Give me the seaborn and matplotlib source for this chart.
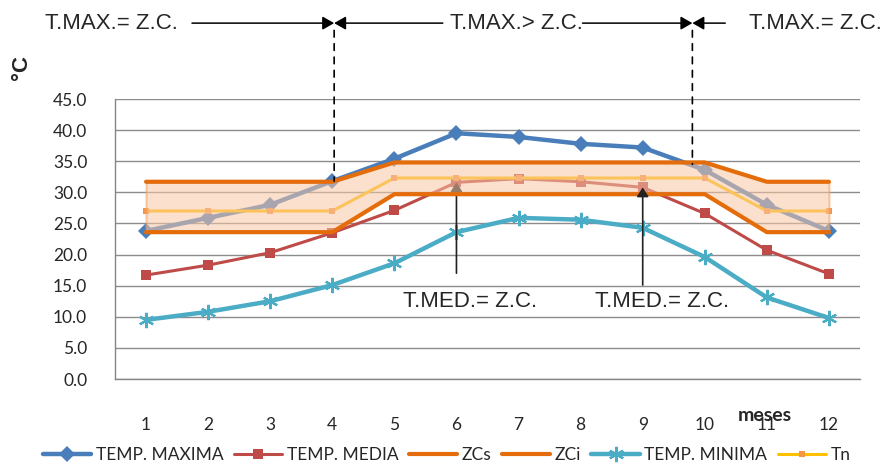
import matplotlib
matplotlib.use("Agg")
import matplotlib.pyplot as plt
import seaborn as sns
import pandas as pd
from matplotlib.lines import Line2D

# ---- data ----
months = [1, 2, 3, 4, 5, 6, 7, 8, 9, 10, 11, 12]
tick_labels = ["1", "2", "3", "4", "5", "6", "7", "8", "9", "10", "11", "12"]
temp_maxima = [23.8, 25.9, 28.0, 31.8, 35.4, 39.5, 38.9, 37.8, 37.2, 33.6, 28.0, 23.8]
temp_media = [16.7, 18.3, 20.3, 23.5, 27.1, 31.6, 32.2, 31.7, 30.8, 26.6, 20.7, 16.9]
temp_minima = [9.5, 10.8, 12.5, 15.1, 18.6, 23.6, 25.9, 25.6, 24.3, 19.6, 13.1, 9.8]
zcs = [31.7, 31.7, 31.7, 31.7, 34.8, 34.8, 34.8, 34.8, 34.8, 34.8, 31.7, 31.7]
zci = [23.6, 23.6, 23.6, 23.6, 29.7, 29.7, 29.7, 29.7, 29.7, 29.7, 23.6, 23.6]
tn = [27.0, 27.0, 27.0, 27.0, 32.3, 32.3, 32.3, 32.3, 32.3, 32.3, 27.0, 27.0]
yticks = [0, 5, 10, 15, 20, 25, 30, 35, 40, 45]

# annotation anchors (month positions)
tmax_cross = [(4.03, 31.8), (9.8, 34.5)]
tmed_arrows = [(6, 17.0, 31.6), (9, 15.1, 30.8)]

df = pd.DataFrame({"mes": months, "TEMP. MAXIMA": temp_maxima, "TEMP. MEDIA": temp_media,
                   "ZCs": zcs, "ZCi": zci, "TEMP. MINIMA": temp_minima, "Tn": tn})

sns.set_style("white")
plt.rcParams["font.family"] = ["Lato", "DejaVu Sans"]

fig = plt.figure(figsize=(8.88, 4.68), dpi=100)
ax = fig.add_axes([115 / 888, 89 / 468, 745 / 888, 280 / 468])

c_max = "#4A7EBB"
c_med = "#BE4B48"
c_zc = "#E46C0A"
c_min = "#4BACC6"
c_tn = "#FFC000"
asterisk = (6, 2, 0)

sns.lineplot(data=df, x="mes", y="TEMP. MAXIMA", ax=ax, color=c_max, lw=3.2, marker="D",
             markersize=8, markeredgewidth=0, zorder=3, label="TEMP. MAXIMA")
sns.lineplot(data=df, x="mes", y="TEMP. MEDIA", ax=ax, color=c_med, lw=2.2, marker="s",
             markersize=7, markeredgewidth=0, zorder=3, label="TEMP. MEDIA")
sns.lineplot(data=df, x="mes", y="TEMP. MINIMA", ax=ax, color=c_min, lw=3.2, marker=asterisk,
             markersize=11, markeredgewidth=1.6, markeredgecolor=c_min, zorder=3, label="TEMP. MINIMA")
sns.lineplot(data=df, x="mes", y="Tn", ax=ax, color=c_tn, lw=2.2, marker="s", markersize=5,
             markerfacecolor="#F79646", markeredgewidth=0, zorder=3, label="Tn")

# arrow at month 6 (below the band fill)
x6, y0_6, y1_6 = tmed_arrows[0]
ax.annotate("", xy=(x6, y1_6), xytext=(x6, y0_6), zorder=3,
            arrowprops=dict(arrowstyle="-|>,head_length=0.55,head_width=0.35", color="#222222",
                            lw=1.2, shrinkA=0, shrinkB=0))

# comfort band
ax.fill_between(months, zci, zcs, facecolor="#F8C7A4", alpha=0.55, edgecolor="#F0A060",
                lw=1.5, zorder=4)

sns.lineplot(data=df, x="mes", y="ZCs", ax=ax, color=c_zc, lw=3.0, zorder=5, label="ZCs")
sns.lineplot(data=df, x="mes", y="ZCi", ax=ax, color=c_zc, lw=3.0, zorder=5, label="ZCi")

x9, y0_9, y1_9 = tmed_arrows[1]
ax.annotate("", xy=(x9, y1_9), xytext=(x9, y0_9), zorder=6,
            arrowprops=dict(arrowstyle="-|>,head_length=0.55,head_width=0.35", color="#222222",
                            lw=1.2, shrinkA=0, shrinkB=0))

ax.set_xlim(0.5, 12.5)
ax.set_ylim(0, 45)
ax.set_yticks(yticks)
ax.set_yticklabels([f"{v:.1f}" for v in yticks], fontsize=12.5)
ax.set_xticks(months)
ax.set_xticklabels(tick_labels, fontsize=12.5)
ax.set_xticks([m + 0.5 for m in [0] + months], minor=True)
ax.tick_params(axis="x", which="major", length=0, pad=27)
ax.tick_params(axis="x", which="minor", length=10, direction="inout", color="#868686", width=1)
ax.tick_params(axis="y", which="major", length=10, direction="inout", color="#868686", width=1, pad=15)
ax.set_xlabel("")
ax.set_ylabel("")
ax.grid(axis="y", color="#8C8C8C", lw=1)
ax.grid(axis="x", visible=False)
ax.set_axisbelow(True)
for s in ["top", "right"]:
    ax.spines[s].set_visible(False)
for s in ["left", "bottom"]:
    ax.spines[s].set_color("#868686")
    ax.spines[s].set_linewidth(1)

xt = ax.get_xaxis_transform()
# dashed verticals
for xc, yc in tmax_cross:
    ax.annotate("", xy=(xc, yc), xycoords="data", xytext=(xc, 1.245), textcoords=xt,
                arrowprops=dict(arrowstyle="-", color="black", lw=1.2, linestyle=(0, (4, 4)),
                                shrinkA=0, shrinkB=0), annotation_clip=False, zorder=6)

ytop = 1.271
ap = dict(arrowstyle="-|>,head_length=0.7,head_width=0.4", color="black", lw=1.1,
          shrinkA=0, shrinkB=0)
# left pair
ax.annotate("", xy=(4.03, ytop), xytext=(1.74, ytop), xycoords=xt, arrowprops=ap, annotation_clip=False)
ax.annotate("", xy=(4.03, ytop), xytext=(5.78, ytop), xycoords=xt, arrowprops=ap, annotation_clip=False)
# right pair
ax.annotate("", xy=(9.8, ytop), xytext=(8.03, ytop), xycoords=xt, arrowprops=ap, annotation_clip=False)
ax.annotate("", xy=(9.8, ytop), xytext=(10.33, ytop), xycoords=xt, arrowprops=ap, annotation_clip=False)

tkw = dict(fontsize=16, family=["Liberation Sans", "DejaVu Sans"], ha="center", va="center")
ax.text(0.436, ytop, "T.MAX.= Z.C.", transform=xt, clip_on=False, **tkw)
ax.text(6.97, ytop, "T.MAX.> Z.C.", transform=xt, clip_on=False, **tkw)
ax.text(11.78, ytop, "T.MAX.= Z.C.", transform=xt, clip_on=False, **tkw)
ax.text(6.22, 12.4, "T.MED.= Z.C.", zorder=7, **tkw)
ax.text(9.31, 12.4, "T.MED.= Z.C.", zorder=7, **tkw)

ax.text(-0.125, 1.114, "°C", transform=ax.transAxes, rotation=90, fontsize=16, fontweight="bold",
        family=["Liberation Sans", "DejaVu Sans"], ha="center", va="center")
ax.text(10.97, -0.13, "meses", transform=xt, fontsize=14, fontweight="bold",
        ha="center", va="center", clip_on=False)

# legend
handles = [
    Line2D([], [], color=c_max, lw=3.2, marker="D", markersize=8, markeredgewidth=0),
    Line2D([], [], color=c_med, lw=2.2, marker="s", markersize=7, markeredgewidth=0),
    Line2D([], [], color=c_zc, lw=3.0),
    Line2D([], [], color=c_zc, lw=3.0),
    Line2D([], [], color=c_min, lw=3.2, marker=asterisk, markersize=11, markeredgewidth=1.6,
           markeredgecolor=c_min),
    Line2D([], [], color=c_tn, lw=2.2, marker="s", markersize=5, markerfacecolor="#F79646",
           markeredgewidth=0),
]
labels = ["TEMP. MAXIMA", "TEMP. MEDIA", "ZCs", "ZCi", "TEMP. MINIMA", "Tn"]
if ax.get_legend() is not None:
    ax.get_legend().remove()
fig.legend(handles, labels, loc="center", bbox_to_anchor=(0.503, 0.028), ncol=6, frameon=False,
           fontsize=12.5, handlelength=2.8, handletextpad=0.25, columnspacing=0.6,
           borderaxespad=0, borderpad=0)

fig.savefig("out.png", dpi=100)
